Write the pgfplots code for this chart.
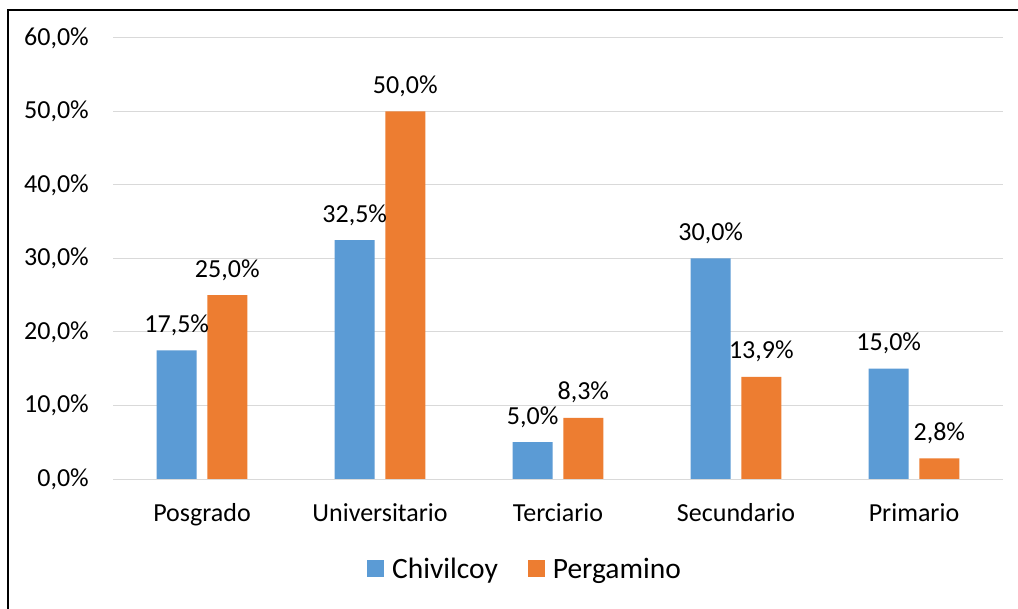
\documentclass[border=0pt]{standalone}
\usepackage{fontspec}
\setmainfont{Carlito}
\usepackage{pgfplots}
\pgfplotsset{compat=1.18}
\definecolor{cblue}{HTML}{5B9BD5}
\definecolor{corange}{HTML}{ED7D31}
\definecolor{cgrid}{HTML}{D9D9D9}
\begin{document}
\begin{tikzpicture}
\useasboundingbox (0,0) rectangle (1018bp,609bp);
\fill[white] (0,0) rectangle (1018bp,609bp);
\draw[black, line width=2bp] (8bp,0) -- (8bp,599bp) -- (1018bp,599bp);
\begin{axis}[
  at={(113bp,130bp)}, anchor=south west,
  scale only axis, width=890bp, height=441bp,
  /pgf/number format/assume math mode=true,
  ybar=10.6bp, bar width=40bp,
  xmin=-0.5, xmax=4.5, ymin=0, ymax=60,
  xtick={0,1,2,3,4},
  xticklabels={Posgrado,Universitario,Terciario,Secundario,Primario},
  ytick={0,10,20,30,40,50,60},
  yticklabel={\pgfmathprintnumber[fixed,fixed zerofill,precision=1,use comma]{\tick}\%},
  axis x line*=bottom, axis y line*=left,
  y axis line style={draw=none},
  x axis line style={draw=cgrid, line width=1bp, -},
  major tick length=0,
  ymajorgrids, grid style={draw=cgrid, line width=1bp},
  tick label style={font=\fontsize{26bp}{30bp}\selectfont, text=black},
  yticklabel style={anchor=east, inner sep=0pt, xshift=-24bp},
  xticklabel style={anchor=base, inner sep=0pt, yshift=-42bp},
  nodes near coords={\pgfmathprintnumber[fixed,fixed zerofill,precision=1,use comma]{\pgfplotspointmeta}\%},
  every node near coord/.append style={font=\fontsize{26bp}{30bp}\selectfont, text=black, anchor=base, inner sep=0pt, yshift=18bp},
  legend columns=2,
  legend style={at={(0.4618,-0.204)}, anchor=center, draw=none, fill=none,
    font=\fontsize{29.5bp}{33bp}\selectfont, inner sep=0pt,
    /tikz/every odd column/.append style={column sep=8bp},
    /tikz/every even column/.append style={column sep=30bp},
    nodes={inner sep=0pt, anchor=west}},
  legend image code/.code={\fill[#1] (0bp,-8.5bp) rectangle (17bp,8.5bp);},
]
\addplot[fill=cblue, draw=none] coordinates {(0,17.5) (1,32.5) (2,5.0) (3,30.0) (4,15.0)};
\addplot[fill=corange, draw=none] coordinates {(0,25.0) (1,50.0) (2,8.3) (3,13.9) (4,2.8)};
\legend{Chivilcoy,Pergamino}
\end{axis}
\end{tikzpicture}
\end{document}
